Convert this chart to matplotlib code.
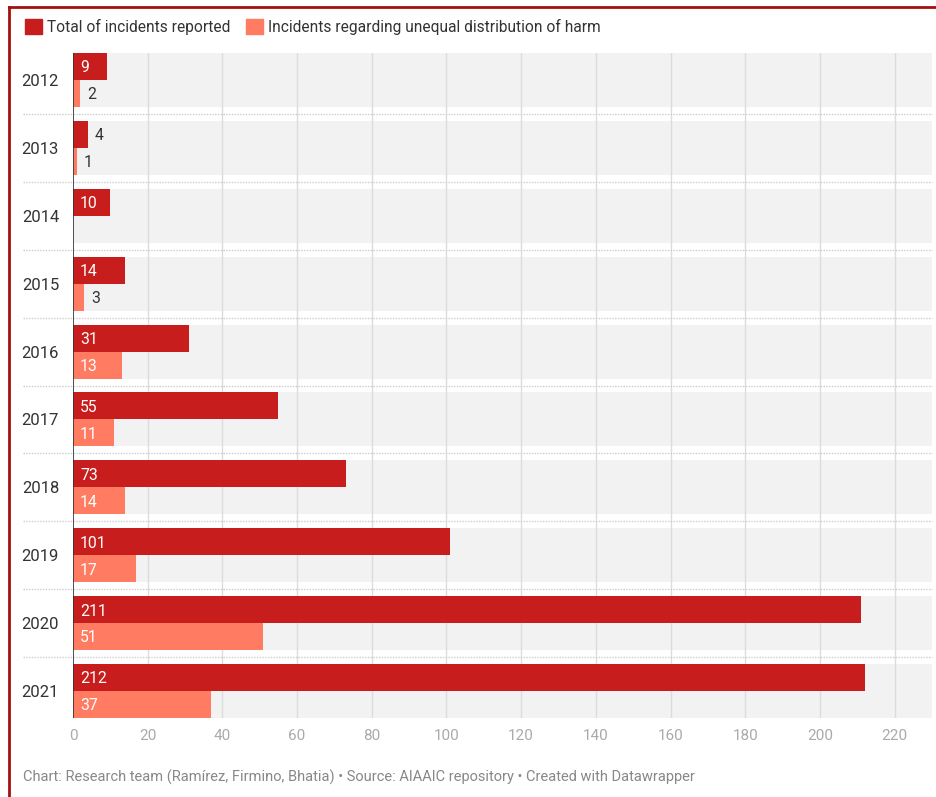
import matplotlib.pyplot as plt
from matplotlib.patches import Patch
from matplotlib.lines import Line2D
import numpy as np

plt.rcParams['font.family'] = ['Roboto', 'DejaVu Sans']

years = ['2012', '2013', '2014', '2015', '2016', '2017', '2018', '2019', '2020', '2021']
total = [9, 4, 10, 14, 31, 55, 73, 101, 211, 212]
unequal = [2, 1, None, 3, 13, 11, 14, 17, 51, 37]
series_names = ['Total of incidents reported', 'Incidents regarding unequal distribution of harm']
xticks = [0, 20, 40, 60, 80, 100, 120, 140, 160, 180, 200, 220]

red = '#c71e1d'
salmon = '#ff7b61'
band = '#f2f2f2'

W, H = 937, 797
fig = plt.figure(figsize=(W / 100, H / 100), dpi=100)
ax = fig.add_axes([73 / W, 79 / H, (932 - 73) / W, (718 - 53) / H])

bh = 0.397
y = np.arange(len(years))
ax.set_ylim(len(years) - 1 + bh, -bh)
ax.set_xlim(0, 230)

# grey band behind each year
for i in y:
    ax.barh(i, 230, height=2 * bh, left=0, color=band, zorder=0)

# gridlines
for t in xticks[1:]:
    ax.axvline(t, color='#dcdcdc', lw=1, zorder=1)

def put_label(v, yy):
    if v >= 5:
        ax.text(1.9, yy + 0.02, str(v), color='white', va='center', ha='left', fontsize=11.3, zorder=4)
    else:
        ax.text(v + 1.9, yy + 0.02, str(v), color='#333333', va='center', ha='left', fontsize=11.3, zorder=4)

for i, (a, b) in enumerate(zip(total, unequal)):
    ax.barh(i - bh / 2, a, height=bh, color=red, zorder=3)
    put_label(a, i - bh / 2)
    if b is not None:
        ax.barh(i + bh / 2, b, height=bh, color=salmon, zorder=3)
        put_label(b, i + bh / 2)

ax.axvline(0, color='#333333', lw=1.2, zorder=5)

ax.set_yticks(y)
ax.set_yticklabels(years, fontsize=12, color='#333333')
ax.tick_params(axis='y', length=0, pad=10)
ax.set_xticks(xticks)
ax.set_xticklabels([str(t) for t in xticks], fontsize=11, color='#aaaaaa')
ax.tick_params(axis='x', length=0, pad=8)
for s in ax.spines.values():
    s.set_visible(False)

# dotted separators between years, running into the label area
for i in y[:-1]:
    ax.plot([-13.3, 230], [i + 0.5, i + 0.5], ls=(0, (1, 1)), color='#cccccc', lw=1,
            clip_on=False, zorder=1)

handles = [Patch(color=red), Patch(color=salmon)]
fig.legend(handles, series_names, loc='upper left', bbox_to_anchor=(19 / W, 1 - 13 / H),
           ncol=2, frameon=False, fontsize=11.2, handlelength=1.1, handleheight=1.1,
           handletextpad=0.3, columnspacing=1.0, borderaxespad=0, labelcolor='#333333')

fig.text(23 / W, 1 - 777 / H, 'Chart: Research team (Ramírez, Firmino, Bhatia) \u2022 Source: AIAAIC repository \u2022 Created with Datawrapper',
         fontsize=10.5, color='#888888', va='center', ha='left')

# red frame on top and left
fig.add_artist(Line2D([9 / W, 1], [1 - 7 / H, 1 - 7 / H], color='#a50f0f', lw=2))
fig.add_artist(Line2D([9 / W, 9 / W], [0, 1 - 7 / H], color='#a50f0f', lw=2))

fig.savefig('out.png', dpi=100)
